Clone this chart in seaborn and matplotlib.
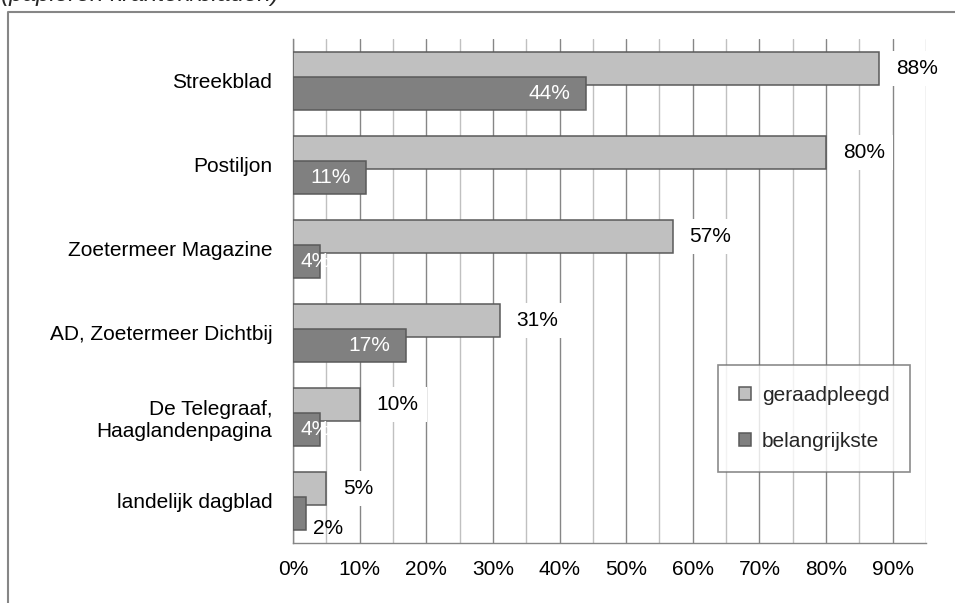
import numpy as np
import pandas as pd
import matplotlib
matplotlib.use("Agg")
import matplotlib.pyplot as plt
from matplotlib.lines import Line2D
import seaborn as sns


categories = ["Streekblad", "Postiljon", "Zoetermeer Magazine",
              "AD, Zoetermeer Dichtbij", "De Telegraaf,\nHaaglandenpagina",
              "landelijk dagblad"]
geraadpleegd = [88, 80, 57, 31, 10, 5]
belangrijkste = [44, 11, 4, 17, 4, 2]
series = ["geraadpleegd", "belangrijkste"]
x_ticks = [0, 10, 20, 30, 40, 50, 60, 70, 80, 90]
x_tick_labels = ["0%", "10%", "20%", "30%", "40%", "50%", "60%", "70%", "80%", "90%"]
title = "(papieren kranten/bladen)"

data = pd.DataFrame({
    "medium": categories * 2,
    "percentage": geraadpleegd + belangrijkste,
    "serie": [series[0]] * len(categories) + [series[1]] * len(categories),
})

sns.set_style("white")
plt.rcParams["font.family"] = ["Liberation Sans", "DejaVu Sans"]

W, H = 955, 603
fig = plt.figure(figsize=(W / 100, H / 100), dpi=100)
ax = fig.add_axes([293 / W, 1 - 543 / H, (926 - 293) / W, (543 - 39) / H])

sns.barplot(data=data, y="medium", x="percentage", hue="serie", orient="h",
            palette=["#c0c0c0", "#808080"], width=0.8, dodge=True,
            edgecolor="#5a5a5a", linewidth=1.1, errorbar=None, ax=ax)

# Excel style overlap of the two series
for k, cont in enumerate(ax.containers):
    shift = 0.05 if k == 0 else -0.05
    for bar in cont:
        bar.set_y(bar.get_y() + shift)
        bar.set_zorder(3 + k)

ax.set_xlim(0, 95)
ax.set_ylim(len(categories) - 0.5, -0.5)
ax.set_xticks(x_ticks)
ax.set_xticklabels(x_tick_labels, fontsize=15)
ax.set_xticks(np.arange(5, 100, 10), minor=True)
ax.set_yticks(range(len(categories)))
ax.set_yticklabels(categories, fontsize=15)
ax.set_yticks(np.arange(-0.5, len(categories), 1), minor=True)
ax.set_xlabel("")
ax.set_ylabel("")

ax.tick_params(axis="y", which="major", length=0, pad=15)
ax.tick_params(axis="y", which="minor", length=4.5, width=1, direction="out")
ax.tick_params(axis="x", which="major", length=4.5, width=1, direction="out", pad=8)
ax.tick_params(axis="x", which="minor", length=0)
ax.tick_params(axis="both", which="both", color="#868686", labelcolor="black")

ax.grid(axis="x", which="major", color="#868686", lw=1)
ax.grid(axis="x", which="minor", color="#c0c0c0", lw=1)
ax.grid(axis="y", visible=False)
ax.set_axisbelow(True)

for side in ["top", "right"]:
    ax.spines[side].set_visible(False)
for side in ["left", "bottom"]:
    ax.spines[side].set_color("#868686")
    ax.spines[side].set_linewidth(1)

# value labels
for bar, v in zip(ax.containers[0], geraadpleegd):
    yc = bar.get_y() + bar.get_height() / 2
    ax.annotate(f"{v}%", xy=(v, yc), xytext=(12, 0), textcoords="offset points",
                ha="left", va="center", fontsize=15, color="black", zorder=6,
                bbox=dict(boxstyle="square,pad=0.4", fc="white", ec="none"))

for bar, v in zip(ax.containers[1], belangrijkste):
    yc = bar.get_y() + bar.get_height() / 2
    if v >= 10:
        ax.annotate(f"{v}%", xy=(v, yc), xytext=(-11.5, 0), textcoords="offset points",
                    ha="right", va="center", fontsize=15, color="white", zorder=6)
    elif v >= 3:
        ax.annotate(f"{v}%", xy=(0, yc), xytext=(5.5, 0), textcoords="offset points",
                    ha="left", va="center", fontsize=15, color="white", zorder=6)
    else:
        ax.annotate(f"{v}%", xy=(v, yc), xytext=(4.5, -11), textcoords="offset points",
                    ha="left", va="center", fontsize=15, color="black", zorder=6)

handles, labels = ax.get_legend_handles_labels()
leg = ax.legend(handles, labels, loc="lower right", bbox_to_anchor=(0.975, 0.141),
                borderaxespad=0, fontsize=15, frameon=True, fancybox=False,
                handlelength=0.6, handleheight=0.6, handletextpad=0.5,
                labelspacing=1.3, borderpad=1.0)
leg.get_frame().set_edgecolor("#6e6e6e")
leg.get_frame().set_linewidth(1.2)
leg.set_zorder(7)

# outer chart frame and clipped title
fig.add_artist(Line2D([7.5 / W, 7.5 / W, 1], [0, 1 - 12 / H, 1 - 12 / H],
                      transform=fig.transFigure, color="#868686", lw=1.5))
fig.text(1 / W, 1 - 1 / H, title, fontsize=17.5, style="italic", ha="left", va="baseline")

fig.savefig("out.png", dpi=100, facecolor="white")
